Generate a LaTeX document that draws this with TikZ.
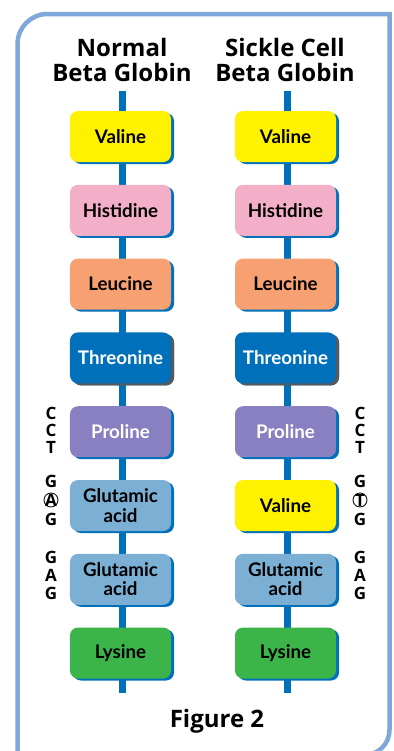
\documentclass[tikz,border=0pt]{standalone}
\usepackage{fontspec}
\setmainfont{Lato}
\newfontfamily\headfont{Open Sans}
\usetikzlibrary{shadows}

\definecolor{framecol}{HTML}{7FA7DA}
\definecolor{spinecol}{HTML}{0070BB}
\definecolor{valcol}{HTML}{FFF200}
\definecolor{hiscol}{HTML}{F4AFC8}
\definecolor{leucol}{HTML}{F7A072}
\definecolor{thrcol}{HTML}{0070BA}
\definecolor{procol}{HTML}{8880C0}
\definecolor{glucol}{HTML}{7BAFD4}
\definecolor{lyscol}{HTML}{3BB54A}

\tikzset{
  acid/.style={rectangle, rounded corners=0.24cm, minimum width=3.03cm,
    minimum height=1.53cm, align=center, inner sep=0pt,
    font=\fontsize{16}{16.5}\selectfont\bfseries,
    drop shadow={shadow xshift=0.09cm, shadow yshift=-0.06cm, fill=spinecol, opacity=1}},
  darkacid/.style={acid,
    drop shadow={shadow xshift=0.09cm, shadow yshift=-0.06cm, fill=black!65, opacity=1}},
  spine/.style={line width=0.21cm, spinecol},
  base/.style={font=\headfont\fontsize{14.5}{14.5}\selectfont\bfseries, inner sep=0pt},
  heading/.style={font=\headfont\fontsize{20.5}{22}\selectfont\bfseries, align=center}
}

\begin{document}
\begin{tikzpicture}[x=0.03cm, y=-0.03cm]
		%%%%% START %%%%%
		\useasboundingbox (0, 0) rectangle (394, 751);
		
		% frame
		\draw[framecol, line width=0.135cm] (17.5, 780) [rounded corners=0.9cm] -- (17.5, 14) [sharp corners] -- (389.5, 14) [rounded corners=0.75cm] -- (389.5, 755) [sharp corners] -- (0, 755);
		
		% headings
		\node[heading] (headN) at (122, 60) {Normal\\Beta Globin};
		\node[heading] (headS) at (285, 60) {Sickle Cell\\Beta Globin};
		
		% backbones
		\coordinate (topN) at (122, 91);
		\coordinate (botN) at (122, 693);
		\coordinate (topS) at (287, 91);
		\coordinate (botS) at (287, 693);
		\draw[spine] (topN) -- (botN);
		\draw[spine] (topS) -- (botS);
		
		% normal chain
		\node[acid, fill=valcol] (valN) at (120.5, 136.5) {Valine};
		\node[acid, fill=hiscol] (hisN) at (120.5, 210.3) {Histidine};
		\node[acid, fill=leucol] (leuN) at (120.5, 284.1) {Leucine};
		\node[darkacid, fill=thrcol, text=white] (thrN) at (120.5, 357.9) {Threonine};
		\node[acid, fill=procol, text=white] (proN) at (120.5, 431.7) {Proline};
		\node[acid, fill=glucol] (gluN) at (120.5, 505.5) {Glutamic\\acid};
		\node[acid, fill=glucol] (glu2N) at (120.5, 579.3) {Glutamic\\acid};
		\node[acid, fill=lyscol] (lysN) at (120.5, 653) {Lysine};
		
		% sickle chain
		\node[acid, fill=valcol] (valS) at (285.5, 136.5) {Valine};
		\node[acid, fill=hiscol] (hisS) at (285.5, 210.3) {Histidine};
		\node[acid, fill=leucol] (leuS) at (285.5, 284.1) {Leucine};
		\node[darkacid, fill=thrcol, text=white] (thrS) at (285.5, 357.9) {Threonine};
		\node[acid, fill=procol, text=white] (proS) at (285.5, 431.7) {Proline};
		\node[acid, fill=valcol] (valmS) at (285.5, 505.5) {Valine};
		\node[acid, fill=glucol] (gluS) at (285.5, 579.3) {Glutamic\\acid};
		\node[acid, fill=lyscol] (lysS) at (285.5, 653) {Lysine};
		
		% codons, normal
		\node[base] (c1N) at (51, 413) {C};
		\node[base] (c2N) at (51, 430) {C};
		\node[base] (c3N) at (51, 447) {T};
		\node[base] (g1N) at (51, 481) {G};
		\node[base] (g2N) at (51, 500) {A};
		\node[base] (g3N) at (51, 519) {G};
		\draw[line width=0.7pt] (g2N) circle (7);
		\node[base] (h1N) at (51, 557) {G};
		\node[base] (h2N) at (51, 575) {A};
		\node[base] (h3N) at (51, 593) {G};
		
		% codons, sickle
		\node[base] (c1S) at (360, 413) {C};
		\node[base] (c2S) at (360, 430) {C};
		\node[base] (c3S) at (360, 447) {T};
		\node[base] (g1S) at (360, 481) {G};
		\node[base] (g2S) at (360, 500) {T};
		\node[base] (g3S) at (360, 519) {G};
		\draw[line width=0.7pt] (g2S) circle (7);
		\node[base] (h1S) at (360, 557) {G};
		\node[base] (h2S) at (360, 575) {A};
		\node[base] (h3S) at (360, 593) {G};
		
		% caption
		\node[heading] (fig) at (217, 721) {Figure 2};
		%%%%% END %%%%%
	\end{tikzpicture}
\end{document}
